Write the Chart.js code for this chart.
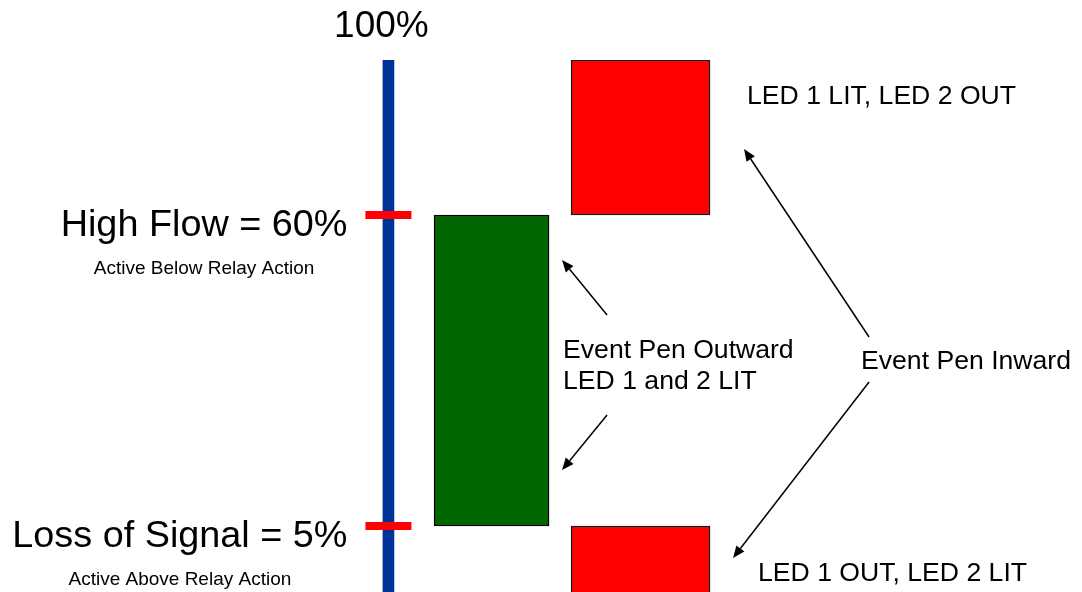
<!DOCTYPE html>
<html>
<head>
<meta charset="utf-8">
<script src="https://cdn.jsdelivr.net/npm/chart.js@4/dist/chart.umd.min.js"></script>
<style>
  html, body { margin: 0; padding: 0; background: #ffffff; }
  #wrap { width: 1082px; height: 592px; position: relative; }
</style>
</head>
<body>
<div id="wrap"><canvas id="c"></canvas></div>
<script>
// ---------- data ----------
const scaleRange = [0, 100];                 // full signal range, %
const topLabel = '100%';
const levelNames = ['High Flow = 60%', 'Loss of Signal = 5%'];
const levelValues = [60, 5];
const levelNotes = ['Active Below Relay Action', 'Active Above Relay Action'];
const columns = ['Signal', 'Event Pen Outward', 'Event Pen Inward'];
const columnX = [35.9, 45.43, 59.2];          // column positions on the horizontal axis (0-100)
const outwardRange = [5, 60];
const inwardRanges = [[60, 100], [0, 5]];
const outwardLabel = ['Event Pen Outward', 'LED 1 and 2 LIT'];
const inwardLabel = 'Event Pen Inward';
const inwardStates = ['LED 1 LIT, LED 2 OUT', 'LED 1 OUT, LED 2 LIT'];

// ---------- a linear scale drawn "not to scale" (piecewise) ----------
class BrokenScale extends Chart.LinearScale {
  _dec(v) {
    const b = this.options.breaks, s = this.options.spans;
    let i = 1;
    while (i < b.length - 1 && v > b[i]) i++;
    return s[i - 1] + (v - b[i - 1]) * (s[i] - s[i - 1]) / (b[i] - b[i - 1]);
  }
  getPixelForValue(v) {
    if (v === null || v === undefined || isNaN(v)) return NaN;
    return this.getPixelForDecimal(this._dec(v));
  }
  getValueForPixel(p) {
    const d = this.getDecimalForPixel(p);
    const b = this.options.breaks, s = this.options.spans;
    let i = 1;
    while (i < s.length - 1 && d > s[i]) i++;
    return b[i - 1] + (d - s[i - 1]) * (b[i] - b[i - 1]) / (s[i] - s[i - 1]);
  }
}
BrokenScale.id = 'broken';
BrokenScale.defaults = Chart.LinearScale.defaults;
Chart.register(BrokenScale);

const FONT = '"Liberation Sans", Arial, Helvetica, sans-serif';

function arrow(ctx, x1, y1, x2, y2) {
  const ang = Math.atan2(y2 - y1, x2 - x1);
  const L = 12, W = 5;
  const bx = x2 - Math.cos(ang) * L, by = y2 - Math.sin(ang) * L;
  ctx.beginPath();
  ctx.moveTo(x1, y1);
  ctx.lineTo(bx, by);
  ctx.stroke();
  ctx.beginPath();
  ctx.moveTo(x2, y2);
  ctx.lineTo(bx + Math.sin(ang) * W, by - Math.cos(ang) * W);
  ctx.lineTo(bx - Math.sin(ang) * W, by + Math.cos(ang) * W);
  ctx.closePath();
  ctx.fill();
}

const annotations = {
  id: 'annotations',
  afterDraw(chart) {
    const ctx = chart.ctx;
    const X = chart.scales.x, Y = chart.scales.y;
    const px = v => X.getPixelForValue(v), py = v => Y.getPixelForValue(v);
    ctx.save();
    ctx.fillStyle = '#000';
    ctx.strokeStyle = '#000';
    ctx.textBaseline = 'alphabetic';

    // top label
    ctx.font = '37px ' + FONT;
    ctx.textAlign = 'center';
    ctx.fillText(topLabel, px(columnX[0]) - 7, py(scaleRange[1]) - 23);

    // level labels
    const right = px(columnX[0]) - 41;
    levelValues.forEach((v, i) => {
      ctx.font = '37.8px ' + FONT;
      ctx.textAlign = 'right';
      const w = ctx.measureText(levelNames[i]).width;
      ctx.fillText(levelNames[i], right, py(v) + 21);
      ctx.font = '19px ' + FONT;
      ctx.textAlign = 'center';
      ctx.fillText(levelNotes[i], right - w / 2, py(v) + 59);
    });

    // outward column
    const gRight = px(columnX[1]) + 57.5;
    const gMid = (py(outwardRange[0]) + py(outwardRange[1])) / 2;
    ctx.font = '26.6px ' + FONT;
    ctx.textAlign = 'left';
    ctx.fillText(outwardLabel[0], gRight + 14, gMid - 12.5);
    ctx.fillText(outwardLabel[1], gRight + 14, gMid + 18.5);
    ctx.lineWidth = 1.5;
    arrow(ctx, gRight + 58, gMid - 55.5, gRight + 13, gMid - 110.5);
    arrow(ctx, gRight + 58, gMid + 44.5, gRight + 13, gMid + 99.5);

    // inward column
    const rRight = px(columnX[2]) + 69.5;
    ctx.fillText(inwardStates[0], rRight + 37, py(inwardRanges[0][1]) + 44);
    ctx.fillText(inwardStates[1], rRight + 48, py(inwardRanges[1][1]) + 55);
    ctx.fillText(inwardLabel, rRight + 151, 369);
    arrow(ctx, rRight + 159, 337, rRight + 34, 149);
    arrow(ctx, rRight + 159, 382, rRight + 23, 558);
    ctx.restore();
  }
};

new Chart(document.getElementById('c'), {
  type: 'bar',
  data: {
    datasets: [
      {
        type: 'scatter', label: 'Levels', order: 0,
        data: levelValues.map(v => ({ x: columnX[0], y: v })),
        pointStyle: 'line', radius: 23, borderWidth: 8,
        borderColor: '#ff0000', backgroundColor: '#ff0000', clip: false
      },
      {
        label: columns[0], order: 1, stack: 's',
        data: [{ x: columnX[0], y: scaleRange }],
        backgroundColor: '#003399', borderWidth: 0, barThickness: 11
      },
      {
        label: columns[1], order: 1, stack: 's',
        data: [{ x: columnX[1], y: outwardRange }],
        backgroundColor: '#006600', borderColor: '#000000', borderWidth: 1.5,
        borderSkipped: false, barThickness: 115
      },
      {
        label: columns[2], order: 1, stack: 's',
        data: inwardRanges.map(r => ({ x: columnX[2], y: r })),
        backgroundColor: '#ff0000', borderColor: '#1a1a1a', borderWidth: 1.5,
        borderSkipped: c => (c.raw && c.raw.y[0] <= scaleRange[0]) ? 'bottom' : false,
        barThickness: 139
      }
    ]
  },
  options: {
    responsive: true,
    maintainAspectRatio: false,
    animation: false,
    events: [],
    layout: { autoPadding: false, padding: { top: 60, bottom: 0, left: 0, right: 0 } },
    plugins: { legend: { display: false }, tooltip: { enabled: false } },
    scales: {
      x: { type: 'linear', min: 0, max: 100, offset: false, display: false },
      y: {
        type: 'broken', min: scaleRange[0], max: scaleRange[1], display: false, stacked: false,
        breaks: [0, 5, 60, 100], spans: [0, 0.12406, 0.70865, 1]
      }
    }
  },
  plugins: [annotations]
});
</script>
</body>
</html>
